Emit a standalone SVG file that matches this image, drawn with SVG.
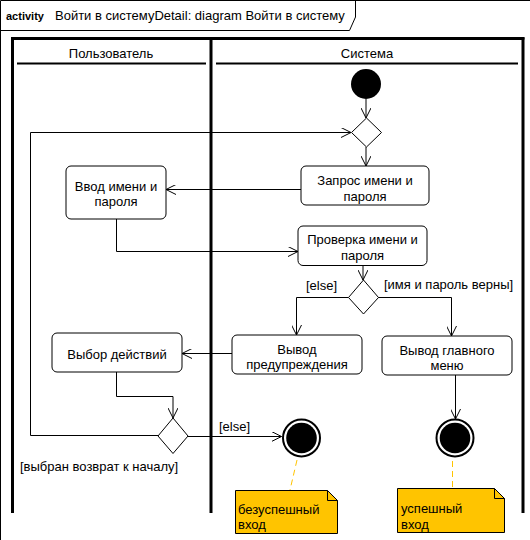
<svg xmlns="http://www.w3.org/2000/svg" width="530" height="540" viewBox="0 0 530 540">
<defs>
<style>
text{font-family:"Liberation Sans",Arial,sans-serif;font-size:13px;fill:#000}
.c{text-anchor:middle}
.box{fill:#fff;stroke:#000;stroke-width:1}
.ln{fill:none;stroke:#000;stroke-width:1}
.lane{fill:none;stroke:#000;stroke-width:3}
.note{fill:#FFC400;stroke:#000;stroke-width:1}
.dash{fill:none;stroke:#FFC400;stroke-width:1;stroke-dasharray:6,4}
</style>
<marker id="a" viewBox="0 0 10 10" refX="10" refY="5" markerWidth="10" markerHeight="10" markerUnits="userSpaceOnUse" orient="auto">
<path d="M0,0 L10,5 L0,10" fill="none" stroke="#000" stroke-width="1"/>
</marker>
</defs>
<rect width="530" height="540" fill="#fff"/>
<g id="frame">
<path d="M0.5,540 V0.5 H530" fill="none" stroke="#000" stroke-width="1"/>
<path d="M0.5,30.5 H349.5 L355.5,17 V0.5" fill="none" stroke="#000" stroke-width="1"/>
<text x="6" y="19.5" style="font-weight:bold;font-size:11px">activity</text>
<text x="55" y="19.5">Войти в системуDetail: diagram Войти в систему</text>
</g>
<g id="lanes">
<path d="M12.5,513 V38.5 H523 V513" class="lane"/>
<path d="M11,38.5 H524.5" fill="none" stroke="#000" stroke-width="2"/>
<path d="M211,38 V513" class="lane"/>
<path d="M17,63.5 H206 M216,63.5 H518" fill="none" stroke="#000" stroke-width="2"/>
<text x="111" y="58" class="c">Пользователь</text>
<text x="367" y="58" class="c">Система</text>
</g>
<g id="connectors">
<path d="M366,99 V118" class="ln" marker-end="url(#a)"/>
<path d="M366,147 V166" class="ln" marker-end="url(#a)"/>
<path d="M158,435.5 H30.5 V132.5 H351" class="ln" marker-end="url(#a)"/>
<path d="M301,189.5 H166" class="ln" marker-end="url(#a)"/>
<path d="M116.5,219 V251.5 H298" class="ln" marker-end="url(#a)"/>
<path d="M363,265.5 V280" class="ln" marker-end="url(#a)"/>
<path d="M348.5,297.5 H296.5 V335" class="ln" marker-end="url(#a)"/>
<path d="M378,297.5 H451.5 V336" class="ln" marker-end="url(#a)"/>
<path d="M232,353.5 H182" class="ln" marker-end="url(#a)"/>
<path d="M116.5,372 V396.5 H173 V418" class="ln" marker-end="url(#a)"/>
<path d="M188,436.5 H281.5" class="ln" marker-end="url(#a)"/>
<path d="M455.5,375 V419" class="ln" marker-end="url(#a)"/>
<path d="M297,460 L290,490" class="dash"/>
<path d="M452.5,461 V488" class="dash"/>
<text x="306" y="289.5">[else]</text>
<text x="384" y="289">[имя и пароль верны]</text>
<text x="219" y="430.5">[else]</text>
<text x="20" y="470.5">[выбран возврат к началу]</text>
</g>
<g id="initial">
<circle cx="366" cy="84" r="15" fill="#000"/>
</g>
<g id="decision1">
<polygon points="366.5,118 381.5,132.5 366.5,147 351.5,132.5" class="box"/>
</g>
<g id="zapros">
<rect x="301" y="166" width="128" height="39" rx="5" class="box"/>
<text x="365" y="184.5" class="c">Запрос имени и</text>
<text x="365" y="200.5" class="c">пароля</text>
</g>
<g id="vvod">
<rect x="66" y="166" width="100" height="53" rx="5" class="box"/>
<text x="116" y="190.5" class="c">Ввод имени и</text>
<text x="116" y="205.5" class="c">пароля</text>
</g>
<g id="proverka">
<rect x="298" y="226" width="129" height="39.5" rx="5" class="box"/>
<text x="362.5" y="243.5" class="c">Проверка имени и</text>
<text x="362.5" y="259.5" class="c">пароля</text>
</g>
<g id="decision2">
<polygon points="363.5,280 378.5,297.5 363.5,314 348.5,297.5" class="box"/>
</g>
<g id="preduprezhdenie">
<rect x="232" y="335" width="130" height="39" rx="5" class="box"/>
<text x="297" y="353.5" class="c">Вывод</text>
<text x="297" y="369" class="c">предупреждения</text>
</g>
<g id="menu">
<rect x="382" y="336" width="130" height="39" rx="5" class="box"/>
<text x="447" y="354.5" class="c">Вывод главного</text>
<text x="447" y="370" class="c">меню</text>
</g>
<g id="vybor">
<rect x="52" y="333" width="130" height="39" rx="5" class="box"/>
<text x="117" y="359" class="c">Выбор действий</text>
</g>
<g id="decision3">
<polygon points="173,418 188,436 173,453.5 158,436" class="box"/>
</g>
<g id="final1">
<circle cx="301.5" cy="438" r="18.5" fill="#fff" stroke="#000" stroke-width="2"/>
<circle cx="301.5" cy="438" r="15.3" fill="#000"/>
</g>
<g id="final2">
<circle cx="455" cy="438" r="18.5" fill="#fff" stroke="#000" stroke-width="2"/>
<circle cx="455" cy="438" r="15.3" fill="#000"/>
</g>
<g id="note1">
<path d="M235.5,490.5 H327.5 L337.5,500.5 V533.5 H235.5 Z" class="note"/>
<path d="M327.5,490.5 V500.5 H337.5" fill="none" stroke="#000" stroke-width="1"/>
<text x="238" y="513.5">безуспешный</text>
<text x="238" y="529">вход</text>
</g>
<g id="note2">
<path d="M397.5,488.5 H494.5 L504.5,498.5 V532.5 H397.5 Z" class="note"/>
<path d="M494.5,488.5 V498.5 H504.5" fill="none" stroke="#000" stroke-width="1"/>
<text x="401" y="512.5">успешный</text>
<text x="401" y="528.5">вход</text>
</g>
</svg>
